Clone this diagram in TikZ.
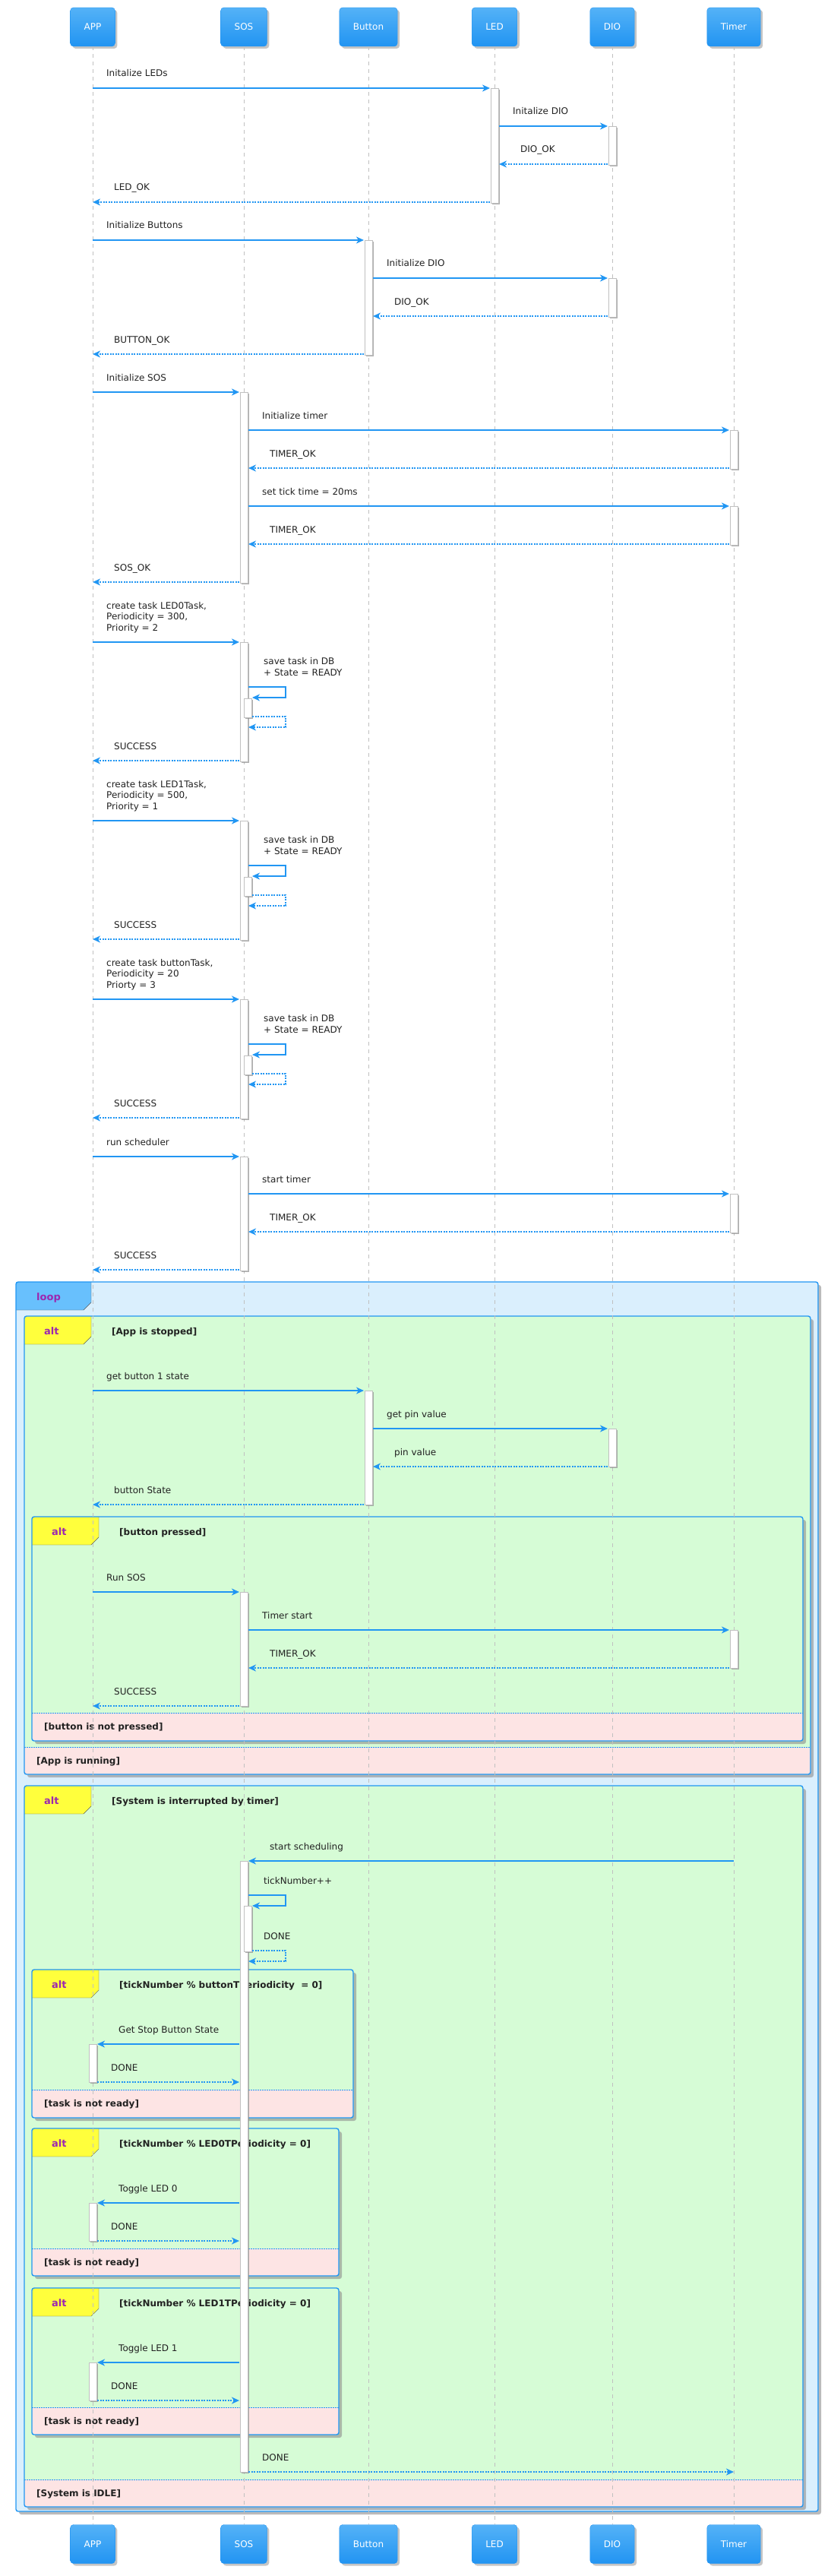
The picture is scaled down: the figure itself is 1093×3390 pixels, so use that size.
\documentclass[tikz,border=0pt]{standalone}
\usepackage{fontspec}
\setmainfont{DejaVu Sans}
\usetikzlibrary{calc}
\usetikzlibrary{arrows.meta}
\usetikzlibrary{shadows}

\definecolor{msgblue}{RGB}{33,150,243}
\definecolor{lifegray}{RGB}{192,192,192}
\definecolor{partlight}{RGB}{84,178,247}
\definecolor{partdark}{RGB}{33,148,242}
\definecolor{loopbody}{RGB}{218,239,253}
\definecolor{looptab}{RGB}{104,192,253}
\definecolor{altbody}{RGB}{214,252,214}
\definecolor{alttab}{RGB}{255,255,60}
\definecolor{elsepink}{RGB}{253,228,228}
\definecolor{kwpurple}{RGB}{156,39,176}
\definecolor{tabline}{RGB}{90,90,90}

\newcounter{msgno}

\begin{document}
\begin{tikzpicture}[x=1pt,y=-1pt]
    \tikzstyle{part}=[rounded corners=4pt,minimum height=51pt,inner xsep=18pt,text=white,
      font=\fontsize{12}{14}\selectfont,top color=partlight,bottom color=partdark,draw=partdark,
      drop shadow={shadow xshift=3pt,shadow yshift=-3pt,fill=black!45,opacity=.5}]
    \tikzstyle{life}=[draw=lifegray,line width=1pt,dash pattern=on 5pt off 5pt]
    \tikzstyle{lbl}=[anchor=base west,inner sep=0pt,text=black!87,font=\fontsize{12}{14.5}\selectfont]
    \tikzstyle{grd}=[lbl,font=\fontsize{12}{14.5}\selectfont\bfseries]
    \tikzstyle{kw}=[lbl,text=kwpurple,font=\fontsize{13}{15}\selectfont\bfseries]
    \tikzstyle{call}=[draw=msgblue,line width=2pt,-{Stealth[length=10pt,width=9pt,inset=3pt]}]
    \tikzstyle{ret}=[call,dash pattern=on 2pt off 1.5pt]
    \tikzstyle{act}=[draw=lifegray,fill=white,line width=0.8pt,
      drop shadow={shadow xshift=2pt,shadow yshift=-2pt,fill=black!45,opacity=.7}]
    \tikzstyle{frame}=[draw=msgblue,line width=1.4pt,rounded corners=3pt]

    \useasboundingbox (0,0) rectangle (1093,3390);

    % participants, top and bottom
    \foreach \n/\t/\x in {app/APP/122,sos/SOS/321,btn/Button/485,led/LED/651,dio/DIO/806,tmr/Timer/966}{
      \node[part] (\n) at (\x,35.5) {\t};
      \node[part] (\n-b) at (\x,3348) {\t};}

    \newcommand{\ml}[1]{\begin{tabular}[b]{@{}l@{}}#1\end{tabular}}

    \newcommand{\msgR}[8][]{%
      \stepcounter{msgno}%
      \draw[#2] ($(#4 |- 0,#3)+(#5,0)$) -- ($(#6 |- 0,#3)+(#7,0)$);
      \node[lbl,#1] (m\themsgno) at ($(#4 |- 0,#3)+(#5+18,-15)$) {#8};}
    \newcommand{\msgL}[8][]{%
      \stepcounter{msgno}%
      \draw[#2] ($(#4 |- 0,#3)+(#5,0)$) -- ($(#6 |- 0,#3)+(#7,0)$);
      \node[lbl,#1] (m\themsgno) at ($(#6 |- 0,#3)+(#7+28,-15)$) {#8};}
    \newcommand{\selfmsg}[6]{%
      \stepcounter{msgno}%
      \draw[#1] ($(#2 |- 0,#3)+(#4,0)$) -| ($(#2 |- 0,#3)+(55,14)$) -- ($(#2 |- 0,#3)+(#5,14)$);
      \node[lbl] (m\themsgno) at ($(#2 |- 0,#3)+(26,-15)$) {#6};}
    \newcommand{\actbar}[4]{%
      \draw[act] ($(#1 |- 0,#2)+(#4-5,0)$) rectangle ($(#1 |- 0,#3)+(#4+5,0)$);}

    \newcommand{\altbox}[8]{%
      \fill[altbody,rounded corners=3pt,drop shadow={shadow xshift=4pt,shadow yshift=-4pt,fill=black!45,opacity=.6}]
        (#2,#3) rectangle (#4,#5);
      \fill[elsepink,rounded corners=3pt] (#2,#7) rectangle (#4,#5);
      \draw[msgblue,line width=1pt,dash pattern=on 1.5pt off 1.5pt] (#2,#7) -- (#4,#7);
      \fill[alttab] (#2,#3) -- ++(88,0) -- ++(0,27) -- ++(-10,10) -- ++(-78,0) -- cycle;
      \draw[tabline] (#2+88,#3) -- ++(0,27) -- ++(-10,10) -- (#2,#3+37);
      \draw[frame] (#2,#3) rectangle (#4,#5);
      \node[kw] (#1k) at (#2+26,#3+24) {alt};
      \node[grd] (#1g) at (#2+115,#3+24.5) {#6};
      \node[grd] (#1e) at (#2+16,#7+22.5) {#8};}

    % loop with the nested alternatives
    \fill[loopbody,rounded corners=3pt,drop shadow={shadow xshift=4pt,shadow yshift=-4pt,fill=black!45,opacity=.6}]
      (21,1687) rectangle (1077,3305);
    \fill[looptab] (21,1687) -- ++(99,0) -- ++(0,27) -- ++(-10,10) -- ++(-89,0) -- cycle;
    \draw[tabline] (120,1687) -- ++(0,27) -- ++(-10,10) -- (21,1724);
    \draw[frame] (21,1687) rectangle (1077,3305);
    \node[kw] (loopk) at (48,1711) {loop};

    \altbox{alta}{32}{1732}{1067}{2335}{[App is stopped]}{2299}{[App is running]}
    \altbox{altb}{42}{1996}{1057}{2291}{[button pressed]}{2254}{[button is not pressed]}
    \altbox{altc}{32}{2350}{1057}{3299}{[System is interrupted by timer]}{3263}{[System is IDLE]}
    \altbox{altd}{42}{2592}{465}{2787}{[tickNumber \% buttonTPeriodicity~ = 0]}{2750}{[task is not ready]}
    \altbox{alte}{42}{2801}{446}{2995}{[tickNumber \% LED0TPeriodicity = 0]}{2959}{[task is not ready]}
    \altbox{altf}{42}{3011}{446}{3204}{[tickNumber \% LED1TPeriodicity = 0]}{3168}{[task is not ready]}

    \foreach \n in {app,sos,btn,led,dio,tmr}
      \draw[life] (\n.south) -- (\n-b.north);

    % activations
    \actbar{led}{116}{267}{0}
    \actbar{dio}{166}{217}{0}
    \actbar{btn}{316}{467}{0}
    \actbar{dio}{366}{417}{0}
    \actbar{sos}{516}{767}{0}
    \actbar{tmr}{566}{617}{0}
    \actbar{tmr}{666}{717}{0}
    \foreach \c in {845,1080,1315}{
      \actbar{sos}{\c}{\c+157}{0}
      \actbar{sos}{\c+74}{\c+99}{5}}
    \actbar{sos}{1522}{1672}{0}
    \actbar{tmr}{1571}{1622}{0}
    \actbar{btn}{1830}{1980}{0}
    \actbar{dio}{1880}{1930}{0}
    \actbar{sos}{2095}{2245}{0}
    \actbar{tmr}{2145}{2195}{0}
    \actbar{sos}{2449}{3253}{0}
    \actbar{sos}{2508}{2568}{5}
    \actbar{app}{2690}{2740}{0}
    \actbar{app}{2899}{2949}{0}
    \actbar{app}{3109}{3159}{0}

    % init
    \msgR{call}{116}{app}{0}{led}{-6}{Initalize LEDs}
    \msgR{call}{166}{led}{6}{dio}{-6}{Initalize DIO}
    \msgL{ret}{216}{dio}{-6}{led}{6}{DIO\_OK}
    \msgL{ret}{266}{led}{-6}{app}{0}{LED\_OK}
    \msgR{call}{316}{app}{0}{btn}{-6}{Initialize Buttons}
    \msgR{call}{366}{btn}{6}{dio}{-6}{Initialize DIO}
    \msgL{ret}{416}{dio}{-6}{btn}{6}{DIO\_OK}
    \msgL{ret}{466}{btn}{-6}{app}{0}{BUTTON\_OK}
    \msgR{call}{516}{app}{0}{sos}{-6}{Initialize SOS}
    \msgR{call}{566}{sos}{6}{tmr}{-6}{Initialize timer}
    \msgL{ret}{616}{tmr}{-6}{sos}{6}{TIMER\_OK}
    \msgR{call}{666}{sos}{6}{tmr}{-6}{set tick time = 20ms}
    \msgL{ret}{716}{tmr}{-6}{sos}{6}{TIMER\_OK}
    \msgL{ret}{766}{sos}{-6}{app}{0}{SOS\_OK}

    % tasks
    \msgR{call}{845}{app}{0}{sos}{-6}{\ml{create task LED0Task,\\Periodicity = 300,\\Priority = 2}}
    \selfmsg{call}{sos}{904}{6}{11}{\ml{save task in DB\\+ State = READY}}
    \selfmsg{ret}{sos}{943}{11}{6}{}
    \msgL{ret}{1001}{sos}{-6}{app}{0}{SUCCESS}
    \msgR{call}{1080}{app}{0}{sos}{-6}{\ml{create task LED1Task,\\Periodicity = 500,\\Priority = 1}}
    \selfmsg{call}{sos}{1139}{6}{11}{\ml{save task in DB\\+ State = READY}}
    \selfmsg{ret}{sos}{1178}{11}{6}{}
    \msgL{ret}{1236}{sos}{-6}{app}{0}{SUCCESS}
    \msgR{call}{1315}{app}{0}{sos}{-6}{\ml{create task buttonTask,\\Periodicity = 20\\Priorty = 3}}
    \selfmsg{call}{sos}{1374}{6}{11}{\ml{save task in DB\\+ State = READY}}
    \selfmsg{ret}{sos}{1413}{11}{6}{}
    \msgL{ret}{1471}{sos}{-6}{app}{0}{SUCCESS}
    \msgR{call}{1522}{app}{0}{sos}{-6}{run scheduler}
    \msgR{call}{1571}{sos}{6}{tmr}{-6}{start timer}
    \msgL{ret}{1621}{tmr}{-6}{sos}{6}{TIMER\_OK}
    \msgL{ret}{1671}{sos}{-6}{app}{0}{SUCCESS}

    % loop
    \msgR{call}{1830}{app}{0}{btn}{-6}{get button 1 state}
    \msgR{call}{1880}{btn}{6}{dio}{-6}{get pin value}
    \msgL{ret}{1930}{dio}{-6}{btn}{6}{pin value}
    \msgL{ret}{1980}{btn}{-6}{app}{0}{button State}
    \msgR{call}{2095}{app}{0}{sos}{-6}{Run SOS}
    \msgR{call}{2145}{sos}{6}{tmr}{-6}{Timer start}
    \msgL{ret}{2195}{tmr}{-6}{sos}{6}{TIMER\_OK}
    \msgL{ret}{2245}{sos}{-6}{app}{0}{SUCCESS}
    \msgL{call}{2449}{tmr}{0}{sos}{6}{start scheduling}
    \selfmsg{call}{sos}{2494}{6}{11}{tickNumber++}
    \selfmsg{ret}{sos}{2567}{11}{6}{DONE}
    \msgL{call}{2690}{sos}{-6}{app}{6}{Get Stop Button State}
    \msgR{ret}{2740}{app}{6}{sos}{-6}{DONE}
    \msgL{call}{2899}{sos}{-6}{app}{6}{Toggle LED 0}
    \msgR{ret}{2949}{app}{6}{sos}{-6}{DONE}
    \msgL{call}{3109}{sos}{-6}{app}{6}{Toggle LED 1}
    \msgR{ret}{3159}{app}{6}{sos}{-6}{DONE}
    \msgR{ret}{3253}{sos}{6}{tmr}{0}{DONE}
\end{tikzpicture}
\end{document}
